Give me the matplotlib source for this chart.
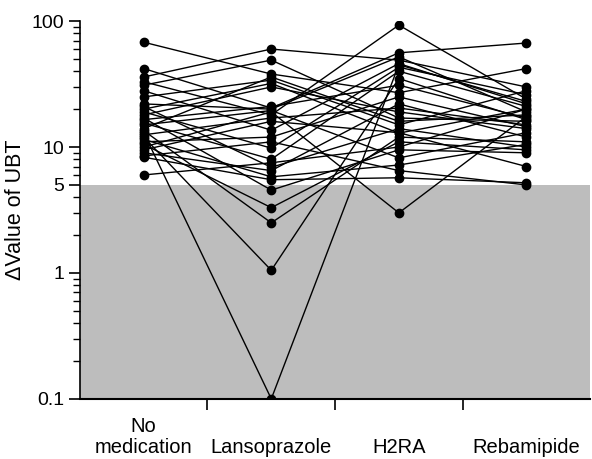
import matplotlib
matplotlib.use("Agg")
import matplotlib.pyplot as plt
from matplotlib.ticker import FixedLocator, LogLocator, NullFormatter

plt.rcParams['font.family'] = ['Liberation Sans', 'DejaVu Sans']

groups = ["No\nmedication", "\nLansoprazole", "\nH2RA", "\nRebamipide"]

# one entry per subject
no_med = [68, 42, 36, 33, 31, 28, 25, 22, 21, 20, 19, 18, 17, 16.5, 15.5,
          15, 14, 13.5, 13, 12.5, 12, 11.5, 11, 10.5, 10, 9.5, 9, 8.5, 8.3, 6.0]
lanso = [38, 20.4, 60, 18, 49, 13.6, 34, 20, 6.9, 32, 9.8, 30, 4.55, 21, 8,
         19.5, 36, 2.5, 0.1, 17, 1.05, 5.8, 12, 3.3, 19, 16, 6.5, 11, 5.5, 7.5]
h2ra = [27, 56, 49, 93, 17, 46, 15, 52, 14, 12.9, 43, 19, 9.5, 31, 40,
        8.2, 16, 12, 45, 20.4, 35, 7.2, 25, 11, 3.0, 13, 22, 6.5, 5.7, 10]
rebam = [42, 67, 30, 24, 16, 22, 28, 19, 10, 20, 26, 14, 9, 17, 21,
         13, 18, 11, 23, 15, 16.5, 10.5, 14.5, 9.5, 17.5, 7, 12, 5.0, 5.2, 20]

cutoff = 5

fig = plt.figure(figsize=(5.92, 4.59), dpi=100)
ax = fig.add_axes([0.135, 0.131, 0.862, 0.823])

ax.axhspan(0.1, cutoff, color='#bdbdbd', zorder=0, lw=0)

xs = list(range(len(groups)))
for i in range(len(no_med)):
    ys = [no_med[i], lanso[i], h2ra[i], rebam[i]]
    ax.plot(xs, ys, color='black', lw=1.0, marker='o', ms=6, zorder=3)

ax.set_yscale('log')
ax.set_ylim(0.1, 100)
ax.set_xlim(-0.5, 3.5)
ax.yaxis.set_major_locator(FixedLocator([0.1, 1, 5, 10, 100]))
ax.set_yticklabels(['0.1', '1', '5', '10', '100'])
ax.yaxis.set_minor_locator(LogLocator(base=10, subs=range(2, 10)))
ax.yaxis.set_minor_formatter(NullFormatter())

ax.set_xticks(xs)
ax.set_xticklabels(groups, linespacing=1.15)
ax.set_xticks([0.5, 1.5, 2.5], minor=True)
ax.tick_params(axis='x', which='major', length=0, pad=13, labelsize=14.5)
ax.tick_params(axis='x', which='minor', length=8, width=1.2)
ax.tick_params(axis='y', which='major', length=8, width=1.2, labelsize=14)
ax.tick_params(axis='y', which='minor', length=5, width=1)

for s in ['top', 'right']:
    ax.spines[s].set_visible(False)
ax.spines['left'].set_linewidth(1.2)
ax.spines['bottom'].set_linewidth(1.5)

ax.set_ylabel('\u0394Value of UBT', fontsize=15.5, labelpad=4)

fig.savefig('out.png', dpi=100)
